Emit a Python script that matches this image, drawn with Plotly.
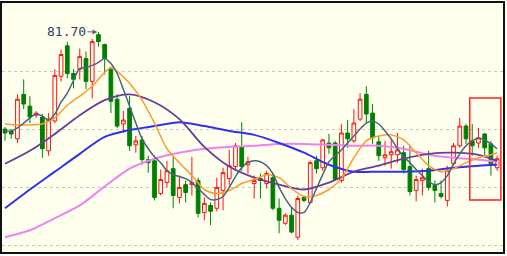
import plotly.graph_objects as go

# ---- data (price units) ----
idx = list(range(80))
opens = [77.51, 77.43, 77.09, 79.01, 78.50, 78.11, 78.03, 76.57, 77.86, 79.79,
         81.11, 79.91, 80.09, 80.56, 79.57, 81.59, 81.16, 80.09, 78.80, 77.73,
         78.41, 76.83, 77.04, 76.19, 76.14, 74.73, 75.20, 75.80, 74.56, 75.11,
         75.11, 75.29, 73.91, 74.21, 74.09, 74.86, 75.37, 75.89, 76.74, 75.97,
         75.16, 75.37, 75.16, 75.41, 74.09, 73.44, 73.79, 72.84, 74.56, 74.34,
         76.14, 75.84, 76.91, 76.91, 75.29, 77.34, 77.00, 77.94, 79.01, 78.20,
         76.96, 76.27, 76.40, 76.40, 76.49, 75.89, 74.86, 75.29, 75.80, 75.07,
         74.73, 74.43, 76.01, 76.79, 77.64, 77.00, 76.91, 77.30, 76.87, 75.84]
highs = [77.60, 77.51, 79.01, 79.66, 78.93, 78.29, 78.16, 78.20, 80.09, 80.94,
         81.29, 80.09, 80.99, 80.86, 81.41, 81.70, 81.20, 80.21, 79.01, 78.29,
         78.93, 77.21, 77.21, 76.36, 76.36, 75.76, 76.14, 76.31, 75.50, 75.29,
         76.31, 75.41, 74.56, 74.34, 75.41, 75.84, 76.61, 76.91, 77.81, 76.31,
         75.50, 75.59, 75.71, 75.59, 74.51, 73.87, 74.13, 74.64, 74.64, 76.14,
         76.36, 77.09, 77.30, 77.00, 77.73, 77.90, 78.37, 79.06, 79.36, 78.59,
         77.21, 77.00, 77.09, 77.34, 76.79, 76.79, 75.50, 75.80, 76.57, 75.29,
         75.29, 75.93, 76.91, 77.99, 77.73, 77.73, 77.56, 77.34, 77.00, 76.36]
lows = [77.00, 77.09, 76.91, 78.37, 77.77, 77.99, 76.27, 76.36, 77.77, 79.57,
        79.70, 79.27, 79.66, 79.23, 78.84, 81.07, 79.87, 78.20, 77.56, 77.34,
        76.57, 76.49, 75.97, 75.63, 74.43, 74.64, 74.99, 74.09, 74.30, 74.34,
        74.64, 73.70, 73.57, 73.36, 73.96, 74.00, 75.07, 75.71, 75.71, 75.59,
        74.51, 74.51, 74.94, 74.00, 73.01, 73.36, 73.01, 72.71, 74.34, 74.30,
        75.59, 75.71, 76.44, 75.29, 75.20, 76.70, 76.91, 77.86, 77.77, 76.87,
        76.14, 75.93, 75.80, 76.06, 75.59, 74.64, 74.39, 74.64, 74.86, 74.34,
        74.51, 74.17, 75.93, 76.70, 76.87, 76.36, 76.70, 76.36, 75.50, 75.71]
closes = [77.34, 77.30, 78.80, 78.59, 78.03, 78.20, 76.66, 77.94, 79.83, 80.73,
          79.91, 79.66, 80.64, 79.57, 81.29, 81.29, 80.56, 78.71, 77.64, 77.90,
          76.79, 77.00, 76.19, 76.06, 74.56, 75.33, 75.71, 74.64, 74.99, 74.77,
          75.20, 73.87, 74.30, 73.96, 74.99, 75.63, 75.93, 76.79, 75.89, 76.10,
          75.29, 75.29, 75.59, 74.09, 73.57, 73.79, 73.06, 74.51, 74.43, 76.06,
          75.80, 77.04, 76.70, 75.33, 77.34, 77.09, 77.77, 78.80, 78.16, 77.13,
          76.36, 76.40, 76.53, 76.61, 75.76, 74.81, 75.33, 75.41, 74.99, 74.86,
          74.60, 75.71, 76.79, 77.64, 77.09, 76.79, 77.13, 76.70, 76.01, 76.23]

ma5 = [77.43, 77.43, 77.56, 77.77, 77.99, 78.16, 78.07, 77.90, 78.16, 78.67,
       79.06, 79.61, 80.13, 80.17, 80.26, 80.39, 80.56, 80.34, 79.91, 79.23,
       78.50, 77.77, 77.09, 76.66, 76.31, 76.06, 75.71, 75.54, 75.46, 75.37,
       75.20, 74.94, 74.69, 74.47, 74.47, 74.60, 74.99, 75.46, 75.84, 76.06,
       76.14, 76.10, 75.93, 75.59, 74.99, 74.51, 74.13, 73.91, 73.91, 74.34,
       74.94, 75.54, 76.10, 76.36, 76.61, 76.91, 77.21, 77.51, 77.77, 77.86,
       77.73, 77.43, 77.09, 76.66, 76.31, 76.06, 75.76, 75.50, 75.24, 75.11,
       75.20, 75.50, 76.01, 76.44, 76.79, 77.00, 77.13, 77.04, 76.87, 76.66]

ma10_idx = [0, 2, 4, 6, 8, 10, 12, 14, 16, 17, 18, 20, 22, 24, 26, 28, 30, 32, 34, 36,
            38, 40, 42, 44, 46, 48, 50, 52, 54, 56, 58, 60, 62, 64, 66, 68, 70, 72, 74, 76,
            78, 79]
ma10 = [77.73, 77.69, 77.69, 77.73, 77.99, 78.54, 78.93, 79.36, 79.96, 80.17, 80.00,
        79.49, 78.76, 77.77, 76.66, 76.06, 75.50, 74.90, 74.73, 74.86, 75.16, 75.33,
        75.54, 75.41, 74.94, 74.60, 74.64, 74.90, 75.37, 76.27, 77.00, 77.21, 77.26,
        77.04, 76.49, 75.93, 75.67, 75.80, 76.06, 76.27, 76.40, 76.49]

long_idx = [0, 4, 8, 12, 16, 20, 24, 28, 32, 36, 40, 44, 48, 52, 56, 60, 64, 68, 72, 76, 79]
ma20 = [76.01, 76.57, 77.30, 78.11, 78.76, 79.01, 78.67, 77.94, 76.74, 75.89, 75.41,
        75.11, 74.90, 75.20, 75.67, 75.93, 76.23, 76.44, 76.49, 76.40, 76.14]
ma30 = [74.09, 74.90, 75.67, 76.44, 77.17, 77.47, 77.64, 77.81, 77.64, 77.43, 77.26,
        76.91, 76.49, 75.97, 75.67, 75.67, 75.67, 75.71, 75.84, 75.93, 75.97]
ma60 = [72.84, 73.14, 73.66, 74.21, 75.03, 75.80, 76.23, 76.49, 76.66, 76.74, 76.79,
        76.87, 76.87, 76.83, 76.79, 76.79, 76.66, 76.40, 76.27, 76.19, 76.10]

grid_levels = [72.5, 75.0, 77.5, 80.0]
peak_index = 15
peak_label = "81.70"
highlight = dict(start=74.6, end=79.6, top=78.85, bottom=74.45)

BG = "#FFFFEE"

fig = go.Figure()
fig.add_trace(go.Candlestick(
    x=idx, open=opens, high=highs, low=lows, close=closes,
    increasing=dict(line=dict(color="#FF1010", width=1), fillcolor=BG),
    decreasing=dict(line=dict(color="#008000", width=1), fillcolor="#008000"),
    whiskerwidth=0, hoverinfo="skip"))

lines = [
    (long_idx, ma60, "#F082F0", 2.0),
    (long_idx, ma30, "#3030F0", 2.0),
    (long_idx, ma20, "#6A3C9C", 1.8),
    (ma10_idx, ma10, "#FF9A30", 1.5),
    (idx, ma5, "#4A6480", 1.5),
]
for xs, ys, col, w in lines:
    fig.add_trace(go.Scatter(x=xs, y=ys, mode="lines",
                             line=dict(color=col, width=w, shape="spline", smoothing=0.8),
                             hoverinfo="skip"))

fig.add_shape(type="rect", xref="x", yref="y",
              x0=highlight["start"], x1=highlight["end"],
              y0=highlight["bottom"], y1=highlight["top"],
              line=dict(color="#FF2020", width=1.5), fillcolor="rgba(0,0,0,0)")

fig.add_annotation(x=peak_index, y=highs[peak_index], text=peak_label,
                   showarrow=True, ax=-32, ay=-1, arrowhead=2, arrowsize=1,
                   arrowwidth=1, arrowcolor="#666666", standoff=1,
                   font=dict(family="DejaVu Sans Mono", size=13, color="#2E3F60"))

fig.update_layout(
    width=507, height=256,
    margin=dict(l=2, r=4, t=1, b=4),
    paper_bgcolor="white", plot_bgcolor=BG,
    showlegend=False, hovermode=False,
    boxgap=0.15,
    xaxis=dict(range=[-0.48, 79.94], showgrid=False, zeroline=False,
               showticklabels=False, ticks="", showline=True, mirror=True,
               linecolor="#111111", linewidth=2, rangeslider=dict(visible=False)),
    yaxis=dict(range=[72.2, 82.957], tickvals=grid_levels, showgrid=True,
               gridcolor="#C8C8C8", griddash="dot", gridwidth=1, zeroline=False,
               showticklabels=False, ticks="", showline=True, mirror=True,
               linecolor="#111111", linewidth=2),
)

fig.write_html("out.html")
